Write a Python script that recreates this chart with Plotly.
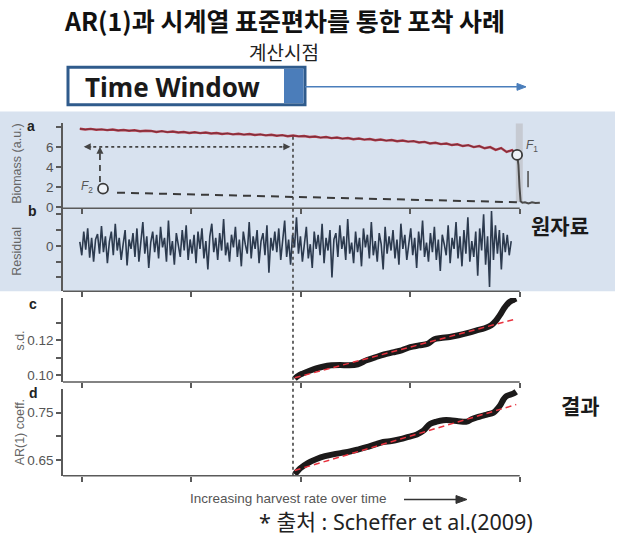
import numpy as np
import plotly.graph_objects as go

W, H = 618, 544

# ---------------- data ----------------
# panel a: biomass time series (harvest rate rises over time)
biomass_t = [-0.5 + 1.25 * k for k in range(80)] + [99.4]
biomass = [7.80, 7.72, 7.78, 7.70, 7.74, 7.66, 7.72, 7.62, 7.68, 7.60,
           7.65, 7.55, 7.60, 7.58, 7.48, 7.56, 7.46, 7.52, 7.42, 7.48,
           7.38, 7.45, 7.36, 7.42, 7.33, 7.38, 7.28, 7.34, 7.24, 7.30,
           7.22, 7.27, 7.18, 7.24, 7.14, 7.20, 7.10, 7.16, 7.06, 7.12,
           7.04, 7.08, 6.98, 7.03, 6.92, 6.98, 6.87, 6.93, 6.82, 6.88,
           6.76, 6.83, 6.72, 6.78, 6.66, 6.73, 6.62, 6.68, 6.56, 6.63,
           6.52, 6.57, 6.43, 6.49, 6.34, 6.41, 6.27, 6.33, 6.18, 6.25,
           6.08, 6.17, 5.98, 6.08, 5.86, 5.98, 5.70, 5.88, 5.50, 5.68,
           5.20]
collapse_t = [99.4, 99.7, 99.95, 100.2, 100.6, 101.2, 102.0, 102.8, 103.6, 104.6]
collapse = [5.20, 4.20, 2.00, 0.60, 0.45, 0.50, 0.38, 0.50, 0.42, 0.46]

# alternative (collapsed) state branch and fold points
lower_branch_t = [8.0, 99.5]
lower_branch = [1.45, 0.50]
F1 = (99.4, 5.2)
F2 = (4.8, 1.85)

# panel b: residuals after detrending
residual_t0, residual_dt = -0.5, 0.45
residual = [
    0.05, -0.12, 0.18, -0.05, 0.22, -0.15, 0.10, -0.20, 0.08, 0.15,
    -0.10, 0.25, -0.08, 0.12, -0.22, 0.05, 0.18, -0.12, 0.28, -0.06,
    0.10, -0.18, 0.02, 0.20, -0.25, 0.08, -0.04, 0.16, -0.14, 0.22,
    -0.20, 0.06, 0.30, -0.10, 0.12, -0.28, 0.04, 0.18, -0.08, 0.14,
    -0.16, 0.24, -0.02, 0.10, -0.20, 0.32, -0.12, 0.06, -0.24, 0.16,
    0.02, -0.14, 0.20, -0.06, 0.26, -0.18, 0.08, -0.10, 0.14, -0.22,
    0.18, -0.04, 0.22, -0.16, 0.06, -0.30, 0.12, 0.28, -0.08, 0.10,
    -0.18, 0.16, -0.06, 0.34, -0.12, 0.04, -0.20, 0.14, -0.02, 0.24,
    -0.14, 0.08, -0.26, 0.18, 0.02, -0.10, 0.30, -0.16, 0.12, -0.04,
    0.20, -0.22, 0.06, 0.16, -0.12, 0.26, -0.34, 0.10, -0.06, 0.18,
    -0.08, 0.22, -0.18, 0.04, 0.32, -0.14, 0.08, -0.24, 0.14, -0.02,
    0.36, -0.10, 0.12, -0.20, 0.06, 0.24, -0.16, 0.02, -0.28, 0.18,
    -0.04, 0.14, -0.12, 0.28, -0.22, 0.10, -0.06, 0.20, -0.40, 0.08,
    0.16, -0.14, 0.26, -0.04, 0.12, -0.18, 0.34, -0.10, 0.04, -0.22,
    0.18, -0.08, 0.10, -0.26, 0.22, -0.02, 0.14, -0.16, 0.30, -0.12,
    0.06, -0.20, 0.16, 0.02, -0.30, 0.24, -0.10, 0.12, -0.06, 0.20,
    -0.16, 0.08, -0.24, 0.28, -0.04, 0.14, -0.18, 0.06, 0.22, -0.12,
    0.10, -0.28, 0.18, -0.06, 0.32, -0.14, 0.04, -0.20, 0.16, -0.08,
    0.24, -0.18, 0.08, -0.32, 0.14, 0.02, -0.12, 0.26, -0.22, 0.10,
    -0.04, 0.30, -0.16, 0.12, -0.26, 0.20, -0.10, 0.36, -0.20, 0.06,
    -0.14, 0.18, -0.38, 0.22, -0.06, 0.40, -0.24, 0.12, -0.52, 0.44,
    -0.18, 0.26, -0.10, 0.20, -0.30, 0.16, -0.08, 0.14, -0.12, 0.06,
]
residual_x = residual_t0 + residual_dt * np.arange(len(residual))

# panels c, d: rolling-window indicators (window ends at window_end)
window_end = 48.2
sd_t = [48.6, 49.5, 50.5, 52, 53.5, 55, 57, 59, 61, 63, 65, 67, 69, 71, 73, 75,
        77, 79, 80.5, 82, 84, 86, 88, 90, 92, 93.5, 94.5, 95.5, 96.5, 97.5, 98.5, 99.2]
sd = [0.0980, 0.0998, 0.1010, 0.1025, 0.1038, 0.1048, 0.1056, 0.1058, 0.1056, 0.1062,
      0.1085, 0.1102, 0.1118, 0.1130, 0.1142, 0.1160, 0.1170, 0.1180, 0.1205, 0.1212,
      0.1218, 0.1228, 0.1240, 0.1255, 0.1268, 0.1285, 0.1310, 0.1345, 0.1385, 0.1415,
      0.1430, 0.1438]
sd_trend_t = [48.6, 99.2]
sd_trend = [0.0985, 0.1322]

ar_t = [48.6, 49.2, 49.8, 51.5, 53.6, 55.5, 57.4, 59.3, 61.2, 63, 65, 67, 68.8, 70.7,
        72.7, 74.6, 76.5, 78, 79.5, 81, 82.5, 84.1, 86, 87.9, 89, 90.2, 91.4, 92.5,
        94, 95.5, 96.3, 97, 98.5, 99.2]
ar1 = [0.620, 0.626, 0.632, 0.643, 0.652, 0.658, 0.662, 0.665, 0.668, 0.672, 0.677,
       0.683, 0.688, 0.690, 0.694, 0.699, 0.704, 0.712, 0.726, 0.731, 0.734, 0.734,
       0.732, 0.731, 0.736, 0.740, 0.743, 0.746, 0.750, 0.765, 0.778, 0.785, 0.790, 0.794]
ar_trend_t = [48.6, 99.2]
ar_trend = [0.628, 0.767]

x_ticks = [0, 25, 50, 75, 100]

# ---------------- layout helpers ----------------
AX = "#5a5a5a"
TICKF = dict(family="Liberation Sans, Arial", size=13.5, color="#555555")


def px(x):
    return x / W


def py(y):
    return 1 - y / H


def ydom(top, bot):
    return [py(bot), py(top)]


xdom = [px(63), px(546)]
xr = [-4.34, 106]

dom_a, rng_a = ydom(125, 211), [-0.1, 8.33]
dom_b, rng_b = ydom(211, 295), [-0.575, 0.475]
dom_c, rng_c = ydom(302, 387), [0.09605, 0.14407]
dom_d, rng_d = ydom(394, 482), [0.6167, 0.80]


def to_paper(dom, rng, v):
    return dom[0] + (v - rng[0]) / (rng[1] - rng[0]) * (dom[1] - dom[0])


def yax(dom, rng, tv, tt, anchor):
    return dict(domain=dom, range=rng, anchor=anchor, showline=True, linecolor=AX,
                linewidth=1.5, ticks="outside", ticklen=5, tickwidth=1.5, tickcolor=AX,
                tickvals=tv, ticktext=tt, tickfont=TICKF, showgrid=False,
                zeroline=False, fixedrange=True)


def xax(anchor):
    return dict(domain=xdom, range=xr, anchor=anchor, showline=False, ticks="outside",
                ticklen=5, tickwidth=1.5, tickcolor=AX, tickvals=x_ticks,
                showticklabels=False, showgrid=False, zeroline=False, fixedrange=True)


fig = go.Figure()

# panel a
fig.add_trace(go.Scatter(x=biomass_t, y=biomass, mode="lines",
                         line=dict(color="#b23a48", width=2.4), xaxis="x", yaxis="y"))
fig.add_trace(go.Scatter(x=biomass_t, y=biomass, mode="lines",
                         line=dict(color="rgba(40,30,40,0.55)", width=0.8), xaxis="x", yaxis="y"))
fig.add_trace(go.Scatter(x=collapse_t, y=collapse, mode="lines",
                         line=dict(color="#4a4a4a", width=2), xaxis="x", yaxis="y"))
fig.add_trace(go.Scatter(x=lower_branch_t, y=lower_branch, mode="lines",
                         line=dict(color="#3a3a3a", width=2, dash="8px,6px"),
                         xaxis="x", yaxis="y"))
fig.add_trace(go.Scatter(x=[F1[0], F2[0]], y=[F1[1], F2[1]], mode="markers",
                         marker=dict(symbol="circle", size=10, color="#eef2f8",
                                     line=dict(color="#3a3a3a", width=1.8)),
                         xaxis="x", yaxis="y"))

# panel b
fig.add_trace(go.Scatter(x=residual_x, y=residual, mode="lines",
                         line=dict(color="#2c3a4e", width=1.6), xaxis="x2", yaxis="y2"))

# panel c
fig.add_trace(go.Scatter(x=sd_t, y=sd, mode="lines",
                         line=dict(color="#1c1a1a", width=6, shape="spline"),
                         xaxis="x3", yaxis="y3"))
fig.add_trace(go.Scatter(x=sd_trend_t, y=sd_trend, mode="lines",
                         line=dict(color="#e8323e", width=1.5, dash="6px,4px"),
                         xaxis="x3", yaxis="y3"))

# panel d
fig.add_trace(go.Scatter(x=ar_t, y=ar1, mode="lines",
                         line=dict(color="#1c1a1a", width=6, shape="spline"),
                         xaxis="x4", yaxis="y4"))
fig.add_trace(go.Scatter(x=ar_trend_t, y=ar_trend, mode="lines",
                         line=dict(color="#e8323e", width=1.5, dash="6px,4px"),
                         xaxis="x4", yaxis="y4"))

shapes = []
# shaded background behind raw-data panels
shapes.append(dict(type="rect", xref="paper", yref="paper", x0=0, x1=px(615),
                   y0=py(295), y1=py(113), fillcolor="#d8e2ef", line=dict(width=0),
                   layer="below"))
# bottom axis lines
for xa, ya in [("x", "y"), ("x2", "y2"), ("x3", "y3"), ("x4", "y4")]:
    shapes.append(dict(type="line", xref=xa, yref=ya + " domain", x0=xr[0], x1=100,
                       y0=0, y1=0, line=dict(color=AX, width=1.5)))
# grey band at the fold
shapes.append(dict(type="rect", xref="x", yref="y", x0=99.1, x1=100.7, y0=0.5, y1=8.4,
                   fillcolor="#c3c6cc", opacity=0.85, line=dict(width=0), layer="below"))
# hysteresis arrows
shapes.append(dict(type="line", xref="x", yref="y", x0=1.2, x1=46.8, y0=6, y1=6,
                   line=dict(color="#444", width=1.6, dash="dot")))
shapes.append(dict(type="line", xref="x", yref="y", x0=4.1, x1=4.1, y0=2.5, y1=5.3,
                   line=dict(color="#444", width=1.8, dash="6px,5px")))
shapes.append(dict(type="line", xref="x", yref="y", x0=101.9, x1=101.9, y0=2.0, y1=3.6,
                   line=dict(color="#555", width=1.6)))
# end of the first time window, carried through all panels
shapes.append(dict(type="line", xref="x", yref="paper", x0=window_end, x1=window_end,
                   y0=dom_d[0], y1=to_paper(dom_a, rng_a, 7.1),
                   line=dict(color="#444", width=1.6, dash="dot")))
# Time Window box with its computing point
shapes.append(dict(type="rect", xref="paper", yref="paper", x0=px(68), x1=px(305),
                   y0=py(106), y1=py(68), fillcolor="white",
                   line=dict(color="#2f5b8c", width=3)))
shapes.append(dict(type="rect", xref="paper", yref="paper", x0=px(284), x1=px(303.5),
                   y0=py(104.5), y1=py(69.5), fillcolor="#4b7dba",
                   line=dict(width=0)))
# arrow along the time axis, and the moving-window arrow
shapes.append(dict(type="line", xref="paper", yref="paper", x0=px(404), x1=px(458),
                   y0=py(506), y1=py(506), line=dict(color="#333", width=1.5)))
shapes.append(dict(type="path", xref="paper", yref="paper",
                   path=f"M {px(456)} {py(502)} L {px(467)} {py(506)} L {px(456)} {py(510)} Z",
                   fillcolor="#333", line=dict(color="#333", width=1)))
shapes.append(dict(type="line", xref="paper", yref="paper", x0=px(305), x1=px(518),
                   y0=py(88), y1=py(88), line=dict(color="#4a7ebb", width=1.5)))
shapes.append(dict(type="path", xref="paper", yref="paper",
                   path=f"M {px(517)} {py(84.5)} L {px(526)} {py(88)} L {px(517)} {py(91.5)} Z",
                   fillcolor="#4a7ebb", line=dict(color="#4a7ebb", width=1)))

ann = []


def txt(x, y, s, size, color="#111", family="Noto Sans CJK KR", weight="normal",
        angle=0, xanchor="center"):
    ann.append(dict(x=px(x), y=py(y), xref="paper", yref="paper", text=s,
                    showarrow=False, textangle=angle, xanchor=xanchor, yanchor="middle",
                    font=dict(size=size, color=color, family=family, weight=weight)))


txt(284, 20, "AR(1)과 시계열 표준편차를 통한 포착 사례", 25, weight="bold")
txt(284, 52, "계산시점", 19, color="#222")
txt(83, 88, "Time Window", 26, color="#1a1a1a", family="Noto Sans", weight="bold",
    xanchor="left")
txt(560, 228, "원자료", 21, color="#1a1a1a", weight="bold")
txt(580, 410, "결과", 21, color="#1a1a1a", weight="bold")
txt(396, 528, "* 출처 : Scheffer et al.(2009)", 21.5, color="#222",
    family="Noto Sans, Noto Sans CJK KR")
txt(288, 505, "Increasing harvest rate over time", 13.5, color="#555",
    family="Liberation Sans, Arial")

# panel letters
for x, y, s in [(31, 128, "a"), (32, 214, "b"), (33, 308, "c"), (33, 398, "d")]:
    txt(x, y, s, 14, color="#222", family="Liberation Sans, Arial", weight="bold")
# axis titles
for x, y, s in [(17, 166, "Biomass (a.u.)"), (17, 255, "Residual"),
                (20, 345, "s.d."), (20, 438, "AR(1) coeff.")]:
    txt(x, y, s, 12.5, color="#666", family="Liberation Sans, Arial", angle=-90)

# fold labels
ann.append(dict(x=F1[0] + 3.4, y=F1[1] + 0.85, xref="x", yref="y",
                text="<i>F</i><sub>1</sub>", showarrow=False,
                font=dict(size=12, color="#555", family="Liberation Sans, Arial")))
ann.append(dict(x=F2[0] - 3.6, y=F2[1] + 0.2, xref="x", yref="y",
                text="<i>F</i><sub>2</sub>", showarrow=False,
                font=dict(size=12, color="#555", family="Liberation Sans, Arial")))

# arrow heads of the hysteresis path
for x, y, axo, ayo in [(0.4, 6, 9, 0), (47.6, 6, -9, 0), (4.1, 6.0, 0, 9)]:
    ann.append(dict(x=x, y=y, xref="x", yref="y", ax=axo, ay=ayo, showarrow=True,
                    arrowhead=2, arrowsize=1, arrowwidth=1.4, arrowcolor="#444", text=""))

fig.update_layout(
    width=W, height=H, autosize=False,
    margin=dict(l=0, r=0, t=0, b=0),
    paper_bgcolor="white", plot_bgcolor="rgba(0,0,0,0)",
    showlegend=False,
    xaxis=xax("y"), xaxis2=xax("y2"), xaxis3=xax("y3"), xaxis4=xax("y4"),
    yaxis=yax(dom_a, rng_a, [0, 2, 4, 6, 8], ["0", "2", "4", "6", ""], "x"),
    yaxis2=yax(dom_b, rng_b, [-0.4, -0.2, 0, 0.2, 0.4], ["", "", "0", "", ""], "x2"),
    yaxis3=yax(dom_c, rng_c, [0.10, 0.11, 0.12, 0.13], ["0.10", "", "0.12", ""], "x3"),
    yaxis4=yax(dom_d, rng_d, [0.65, 0.70, 0.75], ["0.65", "", "0.75"], "x4"),
    shapes=shapes, annotations=ann,
)

fig.write_html("out.html")
